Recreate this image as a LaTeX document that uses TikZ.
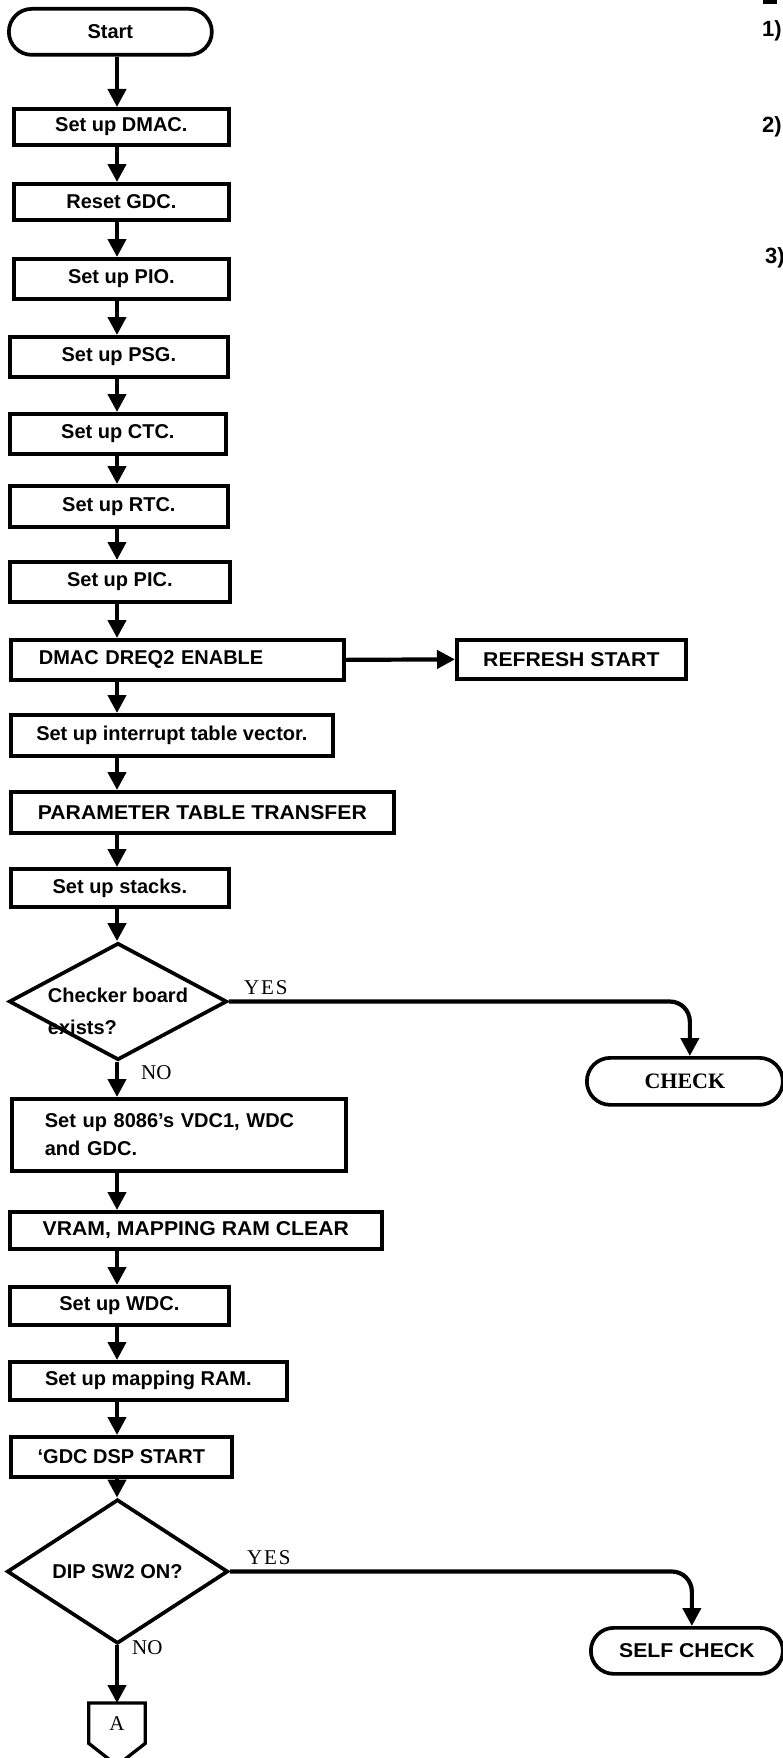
\documentclass[tikz,border=0pt]{standalone}
\usepackage{fontspec}
\newfontfamily\bsans{Liberation Sans}
\newfontfamily\bsanswide{Liberation Sans}[FakeStretch=1.06]
\newfontfamily\tser{Liberation Serif}
\newfontfamily\tserls{Liberation Serif}[LetterSpace=9]
\usetikzlibrary{arrows.meta,shapes.geometric,calc}
\tikzset{
 boxtxt/.style={font=\bsans\bfseries\fontsize{20}{24}\selectfont},
 widetxt/.style={font=\bsanswide\bfseries\fontsize{20}{24}\selectfont},
 proc/.style={boxtxt, draw, line width=3.7pt, anchor=north west, inner sep=0pt},
 arr/.style={line width=4.2pt, -{Triangle[width=18pt,length=18pt]}},
 dia/.style={diamond, draw, line width=3.7pt, inner sep=0pt, boxtxt},
 yn/.style={font=\tser\fontsize{21}{24}\selectfont, anchor=west, inner sep=0pt},
 yestxt/.style={yn, font=\tserls\fontsize{21}{24}\selectfont},
 edgetxt/.style={font=\bsans\bfseries\fontsize{22}{26}\selectfont, anchor=base west, inner sep=0pt},
}
\begin{document}
\begin{tikzpicture}[x=1pt,y=-1pt]
\useasboundingbox (0,0) rectangle (782,1758);
\coordinate (sp) at (117,0);
% main column
\node[proc, rounded corners=23pt, minimum width=203pt, minimum height=46pt] (start) at (7,7) {Start};
\node[proc, minimum width=215pt, minimum height=36pt] (dmac) at (12,107) {Set up DMAC.};
\node[proc, minimum width=215pt, minimum height=36pt] (gdc) at (12,182) {Reset GDC.};
\node[proc, minimum width=215pt, minimum height=40pt] (pio) at (12,257) {Set up PIO.};
\node[proc, minimum width=218pt, minimum height=40pt] (psg) at (8,335) {Set up PSG.};
\node[proc, minimum width=216pt, minimum height=40pt] (ctc) at (8,412) {Set up CTC.};
\node[proc, minimum width=218pt, minimum height=41pt] (rtc) at (8,484) {Set up RTC.};
\node[proc, minimum width=220pt, minimum height=40pt] (pic) at (8,560) {Set up PIC.};
\node[proc, minimum width=333pt, minimum height=40pt, inner xsep=28pt, text width=277pt, align=left] (dreq) at (9,638) {DMAC DREQ2 ENABLE};
\node[proc, widetxt, minimum width=229pt, minimum height=39pt] (refresh) at (455,638) {REFRESH START};
\node[proc, minimum width=322pt, minimum height=41pt] (intv) at (9,713) {Set up interrupt table vector.};
\node[proc, widetxt, minimum width=383pt, minimum height=41pt] (param) at (9,790) {PARAMETER TABLE TRANSFER};
\node[proc, minimum width=218pt, minimum height=38pt] (stacks) at (9,867) {Set up stacks.};
\node[dia, minimum width=218pt, minimum height=117pt] (dia1) at (118,1001.5) {};
\node[boxtxt, align=left, inner sep=0pt] (dia1t) at (118,1011) {Checker board\\[8pt]exists?};
\node[yestxt] (yes1) at (244,988) {YES};
\node[proc, rounded corners=23.5pt, minimum width=196pt, minimum height=47pt, font=\tser\bfseries\fontsize{22}{26}\selectfont] (check) at (585,1056) {CHECK};
\node[yn] (no1) at (141,1073) {NO};
\node[proc, minimum width=334pt, minimum height=72pt, inner xsep=33pt, text width=268pt, align=left] (vdc) at (10,1097) {Set up 8086’s VDC1, WDC\\[4pt]and GDC.};
\node[proc, widetxt, minimum width=372pt, minimum height=37pt] (vram) at (8,1210) {VRAM, MAPPING RAM CLEAR};
\node[proc, minimum width=219pt, minimum height=38pt] (wdc) at (8,1285) {Set up WDC.};
\node[proc, minimum width=277pt, minimum height=38pt] (map) at (8,1360) {Set up mapping RAM.};
\node[proc, minimum width=221pt, minimum height=40pt] (dsp) at (9,1435) {‘GDC DSP START};
\node[dia, minimum width=221pt, minimum height=113pt] (dia2) at (117.5,1571.5) {DIP SW2 ON?};
\node[yestxt] (yes2) at (247,1558) {YES};
\node[proc, widetxt, rounded corners=23pt, minimum width=192pt, minimum height=46pt] (self) at (589,1626) {SELF CHECK};
\node[yn] (no2) at (132,1648) {NO};
\node[font=\tser\fontsize{21}{24}\selectfont, minimum width=56pt, minimum height=40pt, inner sep=0pt, anchor=north] (conA) at (117,1703) {A};
\draw[line width=3.3pt, line join=miter] (conA.south west) -- (conA.north west) -- (conA.north east) -- (conA.south east) -- ($(conA.south)+(0,22)$) -- cycle;
% connectors
\foreach \a/\b in {start/dmac, dmac/gdc, gdc/pio, pio/psg, psg/ctc, ctc/rtc, rtc/pic, pic/dreq, dreq/intv, intv/param, param/stacks, stacks/dia1, dia1/vdc, vdc/vram, vram/wdc, wdc/map, map/dsp, dsp/dia2, dia2/conA}
  \draw[arr] (\a.south -| sp) -- (\b.north -| sp);
\draw[arr] (dreq.east) -- (refresh.west);
\draw[arr, rounded corners=20pt] (dia1.east) -| ([xshift=5pt]check.north);
\draw[arr, rounded corners=20pt] (dia2.east) -| ([xshift=5pt]self.north);
% fragments of text cut off at the right edge
\fill (763,0) rectangle (777,4);
\node[edgetxt] (r1) at (762,37) {1)};
\node[edgetxt] (r2) at (762,132) {2)};
\node[edgetxt] (r3) at (765,263) {3)};
\end{tikzpicture}
\end{document}
